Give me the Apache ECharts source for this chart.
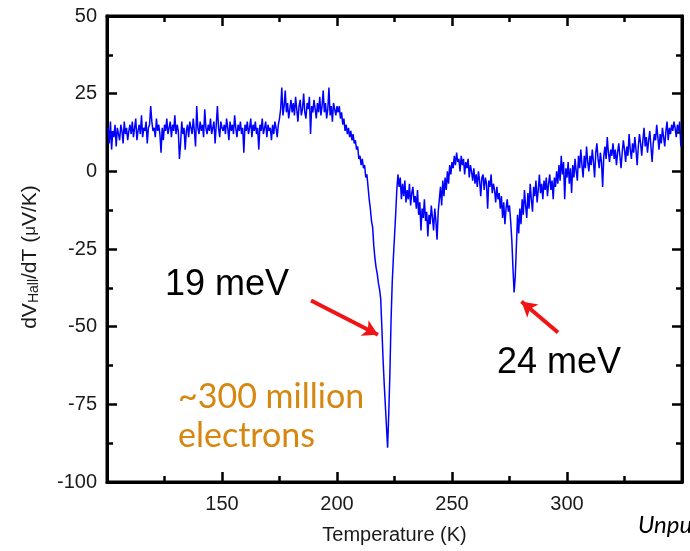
<!DOCTYPE html>
<html>
<head>
<meta charset="utf-8">
<script src="https://cdn.jsdelivr.net/npm/echarts@6/dist/echarts.min.js"></script>
<style>
  html, body { margin: 0; padding: 0; background: #fff; }
  #chart { width: 690px; height: 551px; }
</style>
</head>
<body>
<div id="chart"></div>
<script>
// Temperature sweep: first reading and spacing (K)
const tStart = 100.5;
const tStep = 0.5;

// dV_Hall/dT readings (µV/K), 20 readings per 10 K row
const dVdT = [
  // 100.5 - 110
  14, 9, 16, 7, 13, 11, 15, 8, 14, 12, 10, 15, 13, 9, 16, 12, 14, 10, 13, 15,
  // 110.5 - 120
  12, 16, 11, 14, 17, 10, 13, 15, 12, 18, 11, 14, 13, 16, 9, 14, 15, 21, 16, 13,
  // 120.5 - 130
  14, 11, 17, 13, 15, 12, 6, 14, 10, 15, 13, 17, 12, 14, 16, 11, 15, 13, 18, 12,
  // 130.5 - 140
  15, 13, 4, 9, 16, 12, 14, 7, 13, 15, 11, 16, 14, 12, 17, 13, 8, 21, 14, 12,
  // 140.5 - 150
  16, 13, 15, 11, 20, 14, 12, 15, 13, 17, 12, 14, 16, 9, 15, 21, 14, 11, 16, 14,
  // 150.5 - 160
  13, 15, 12, 17, 14, 10, 16, 13, 15, 12, 18, 14, 11, 15, 13, 16, 12, 14, 6, 15,
  // 160.5 - 170
  13, 16, 12, 14, 17, 11, 15, 13, 16, 12, 14, 7, 15, 13, 17, 12, 14, 16, 11, 15,
  // 170.5 - 180
  13, 14, 10, 15, 12, 16, 14, 11, 15, 17, 20, 27, 18, 21, 26, 19, 22, 17, 20, 23,
  // 180.5 - 190
  19, 22, 18, 24, 20, 16, 21, 23, 18, 20, 25, 19, 17, 22, 20, 24, 12, 21, 19, 23,
  // 190.5 - 200
  20, 17, 22, 19, 24, 18, 21, 26, 19, 22, 17, 20, 27, 18, 21, 16, 22, 20, 18, 21,
  // 200.5 - 210
  19, 21, 17, 19, 15, 17, 13, 15, 12, 14, 11, 13, 10, 12, 9, 10, 7, 8, 4, 5,
  // 210.5 - 220
  2, 4, 1, 2, -2, -1, -5, -9, -12, -16, -18, -24, -28, -31, -33, -36, -38, -41, -50, -60,
  // 220.5 - 230
  -68, -75, -82, -89, -78, -65, -48, -36, -28, -21, -14, -6, -1, -5, -2, -9, -4, -8, -3, -10,
  // 230.5 - 240
  -6, -9, -4, -11, -7, -5, -10, -8, -12, -6, -14, -10, -19, -12, -15, -9, -16, -13, -21, -14,
  // 240.5 - 250
  -17, -11, -15, -19, -12, -16, -22, -13, -9, -5, -11, -3, -8, -2, -6, 0, -4, 2, -1, 3,
  // 250.5 - 260
  1, 5, 2, 6, 3, 4, 0, 5, 2, 4, -1, 3, 1, 4, -2, 2, 0, -3, 1, -4,
  // 260.5 - 270
  -1, -5, 0, -3, -8, -2, -1, -6, -2, -4, -12, -3, -5, -1, -7, -4, -6, -10, -5, -9,
  // 270.5 - 280
  -7, -12, -8, -15, -10, -17, -12, -9, -13, -11, -16, -22, -31, -39, -34, -24, -14, -20, -12, -17,
  // 280.5 - 290
  -9, -14, -6, -11, -15, -7, -12, -4, -9, -13, -5, -8, -3, -10, -6, -1, -7, -4, -9, -3,
  // 290.5 - 300
  -6, -2, -8, -4, -1, -6, -3, -9, -2, -5, 0, -4, 2, -3, 5, -1, 3, -9, 1, -2,
  // 300.5 - 310
  3, -4, 1, -7, 2, -2, 4, 0, -3, 5, 1, 7, 2, -2, 5, 1, 8, 3, 0, 5,
  // 310.5 - 320
  2, 7, 3, -2, 6, 9, 4, 1, 6, 3, -5, 5, 8, 4, 11, 6, 3, 7, 5, 9,
  // 320.5 - 330
  4, 7, 2, 6, 9, 5, 1, 6, 10, 7, 3, 8, 5, 12, 7, 4, 9, 6, 11, 7,
  // 330.5 - 340
  2, 8, 12, 9, 5, 10, 14, 8, 11, 6, 10, 13, 8, 3, 9, 12, 10, 15, 11, 7,
  // 340.5 - 349.5
  12, 9, 14, 11, 8, 13, 16, 10, 14, 12, 15, 13, 16, 14, 11, 15, 13, 16, 8
];

// Axis ranges and tick spacing
const xRange = [100, 350];
const xMajor = 50;
const xHiddenLabels = [100, 350];
const yRange = [-100, 50];
const yMajor = 25;

// Arrow annotations: [tail, head] in (K, µV/K)
const arrow19 = [[188.7, -41.6], [217.8, -52.6]];
const arrow24 = [[296.1, -51.9], [280.2, -41.9]];

const points = dVdT.map((v, i) => [tStart + i * tStep, v]);

const chart = echarts.init(document.getElementById('chart'), null, { renderer: 'canvas' });

const axisFont = 'Liberation Sans, Arial, sans-serif';
const frameLine = { show: true, onZero: false, lineStyle: { color: '#000', width: 3 } };
const majorTick = { show: true, inside: true, length: 10, lineStyle: { color: '#000', width: 2.5 } };
const minorTick = { show: true, splitNumber: 2, length: 6, lineStyle: { color: '#000', width: 2.5 } };

chart.setOption({
  animation: false,
  backgroundColor: '#fff',
  grid: { left: 107, right: 8, top: 16, bottom: 69, show: true, borderColor: '#000', borderWidth: 3 },
  xAxis: [
    {
      type: 'value', min: xRange[0], max: xRange[1], interval: xMajor, position: 'bottom',
      axisLine: frameLine, axisTick: majorTick, minorTick: minorTick,
      splitLine: { show: false },
      axisLabel: {
        color: '#1a1a1a', fontSize: 20, fontFamily: axisFont, margin: 12,
        formatter: v => (xHiddenLabels.includes(v) ? '' : String(v))
      },
      name: 'Temperature (K)', nameLocation: 'middle', nameGap: 43,
      nameTextStyle: { color: '#1a1a1a', fontSize: 20, fontFamily: axisFont }
    },
    {
      type: 'value', min: xRange[0], max: xRange[1], interval: xMajor, position: 'top',
      axisLine: frameLine, axisTick: majorTick, minorTick: minorTick,
      splitLine: { show: false }, axisLabel: { show: false }
    }
  ],
  yAxis: [
    {
      type: 'value', min: yRange[0], max: yRange[1], interval: yMajor, position: 'left',
      axisLine: frameLine, axisTick: majorTick, minorTick: minorTick,
      splitLine: { show: false },
      axisLabel: { color: '#1a1a1a', fontSize: 20, fontFamily: axisFont, margin: 10 }
    },
    {
      type: 'value', min: yRange[0], max: yRange[1], interval: yMajor, position: 'right',
      axisLine: frameLine, axisTick: majorTick, minorTick: minorTick,
      splitLine: { show: false }, axisLabel: { show: false }
    }
  ],
  series: [
    {
      type: 'line',
      data: points,
      showSymbol: false,
      symbol: 'none',
      clip: true,
      lineStyle: { color: '#0000ff', width: 1.5 },
      emphasis: { disabled: true },
      markLine: {
        silent: true,
        symbol: ['none', 'arrow'],
        symbolSize: [13, 15],
        label: { show: false },
        lineStyle: { color: '#f01414', width: 4, type: 'solid' },
        data: [
          [{ coord: arrow19[0] }, { coord: arrow19[1] }],
          [{ coord: arrow24[0] }, { coord: arrow24[1] }]
        ]
      }
    }
  ],
  graphic: [
    {
      type: 'text', x: 30, y: 257, rotation: Math.PI / 2,
      style: {
        text: '{a|dV}{s|Hall}{a|/dT (}{m|μ}{a|V/K)}',
        align: 'center', verticalAlign: 'middle',
        rich: {
          a: { fontSize: 21, fontFamily: axisFont, fill: '#1a1a1a', lineHeight: 23 },
          s: { fontSize: 14, fontFamily: axisFont, fill: '#1a1a1a', lineHeight: 14, padding: [13, 0, 0, 0], verticalAlign: 'bottom' },
          m: { fontSize: 17, fontFamily: axisFont, fill: '#1a1a1a', lineHeight: 23 }
        }
      }
    },
    {
      type: 'text', x: 165, y: 285,
      style: { text: '19 meV', fontSize: 36, fontFamily: axisFont, fill: '#000', align: 'left', verticalAlign: 'middle' }
    },
    {
      type: 'text', x: 497, y: 363,
      style: { text: '24 meV', fontSize: 36, fontFamily: axisFont, fill: '#000', align: 'left', verticalAlign: 'middle' }
    },
    {
      type: 'text', x: 178, y: 397,
      style: { text: '~300 million', fontSize: 34, fontFamily: 'Lato, sans-serif', fill: '#d6870f', align: 'left', verticalAlign: 'middle' }
    },
    {
      type: 'text', x: 178, y: 436,
      style: { text: 'electrons', fontSize: 34, fontFamily: 'Lato, sans-serif', fill: '#d6870f', align: 'left', verticalAlign: 'middle' }
    },
    {
      type: 'text', x: 638, y: 525,
      style: { text: 'Unpublished', fontSize: 24, fontStyle: 'italic', fontFamily: 'Lato, sans-serif', fill: '#000', align: 'left', verticalAlign: 'middle' }
    }
  ]
});
</script>
</body>
</html>
